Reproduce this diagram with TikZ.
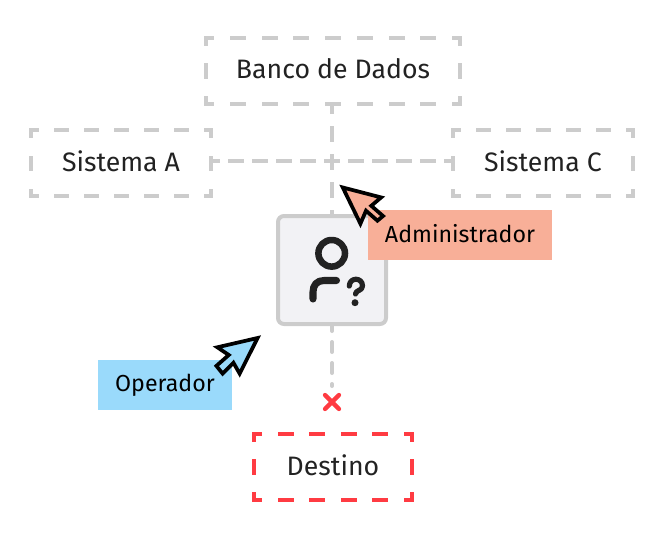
\documentclass[tikz,border=0pt]{standalone}
\usepackage{fontspec}
\setmainfont{Fira Sans}
\definecolor{gline}{HTML}{CCCCCC}
\definecolor{redline}{HTML}{FF3B42}
\definecolor{ink}{HTML}{222222}
\definecolor{iconfill}{HTML}{F2F2F5}
\definecolor{salmon}{HTML}{F8AF98}
\definecolor{sky}{HTML}{9ADAFB}
\newlength{\pxu}\setlength{\pxu}{0.75pt}
\usetikzlibrary{calc}
% name, horizontal periods, vertical periods, dash, colour
\newcommand{\dashedbox}[5]{%
  \path (#1.north west) let \p1=($(#1.north east)-(#1.north west)$), \p2=($(#1.north west)-(#1.south west)$) in
    \pgfextra{\pgfmathsetlengthmacro{\hgap}{\x1/#2-(#4-4)*\pxu}\pgfmathsetlengthmacro{\vgap}{\y2/#3-(#4-4)*\pxu}\global\let\hgapg\hgap\global\let\vgapg\vgap};
  \draw[#5,line width=3pt,line cap=rect,dash pattern=on #4\pxu-4\pxu off \hgapg,dash phase=(#4-4)*0.5*\pxu] (#1.north west) -- (#1.north east);
  \draw[#5,line width=3pt,line cap=rect,dash pattern=on #4\pxu-4\pxu off \hgapg,dash phase=(#4-4)*0.5*\pxu] (#1.south west) -- (#1.south east);
  \draw[#5,line width=3pt,line cap=rect,dash pattern=on #4\pxu-4\pxu off \vgapg,dash phase=(#4-4)*0.5*\pxu] (#1.north west) -- (#1.south west);
  \draw[#5,line width=3pt,line cap=rect,dash pattern=on #4\pxu-4\pxu off \vgapg,dash phase=(#4-4)*0.5*\pxu] (#1.north east) -- (#1.south east);
}
\tikzset{
  sysbox/.style={rectangle,inner sep=0pt,outer sep=0pt,minimum height=66\pxu},
  boxtext/.style={text=ink,font=\fontsize{20pt}{24pt}\selectfont,inner sep=0pt},
  tag/.style={rectangle,inner sep=0pt,outer sep=0pt,minimum height=50\pxu},
  tagtext/.style={text=black,font=\fontsize{17.4pt}{21pt}\selectfont,inner sep=0pt},
  cursor/.style={draw=black,line width=2.8pt,miter limit=10,line join=miter},
  iconstroke/.style={draw=ink,line cap=round,line join=round},
}
\begin{document}
\begin{tikzpicture}[x=0.75pt,y=-0.75pt]
\useasboundingbox (0,0) rectangle (664,550);
% nodes
\node[sysbox,minimum width=254\pxu] (banco) at (333,71) {};
\node[sysbox,minimum width=180\pxu] (sisa) at (121,163) {};
\node[sysbox,minimum width=180\pxu] (sisc) at (543,163) {};
\node[sysbox,minimum width=158\pxu] (destino) at (333,467) {};
\node[boxtext] (tbanco) at (333,69) {Banco de Dados};
\node[boxtext] (tsisa) at (121,161) {Sistema A};
\node[boxtext] (tsisc) at (543,161) {Sistema C};
\node[boxtext] (tdest) at (333,465) {Destino};
\node[rectangle,inner sep=0pt,outer sep=0pt,minimum width=108\pxu,minimum height=108\pxu] (icon) at (332,270) {};
\coordinate (xm) at (332,402);
\coordinate (hl) at (211,161);
\coordinate (hr) at (453,161);
\coordinate (vt) at (332,104);
% connectors
\draw[gline,line width=3pt,dash pattern=on 16\pxu off 8\pxu,dash phase=7\pxu] (hl) -- (hr);
\draw[gline,line width=3pt,dash pattern=on 16\pxu off 12\pxu,dash phase=6\pxu] (vt) -- (icon.north -| vt);
\draw[gline,line width=3pt,line cap=round,dash pattern=on 10\pxu off 11\pxu,dash phase=3\pxu] (icon.south) -- ($(xm)+(0,-16)$);
% boxes
\dashedbox{banco}{8}{2}{16}{gline}
\dashedbox{sisa}{6}{2}{15}{gline}
\dashedbox{sisc}{6}{2}{15}{gline}
\dashedbox{destino}{5}{2}{16}{redline}
% icon
\draw[gline,fill=iconfill,line width=3pt,rounded corners=6\pxu] (icon.south west) rectangle (icon.north east);
\draw[iconstroke,line width=4.9pt] (331.7,253.3) circle (13.3);
\draw[iconstroke,line width=5.3pt] (313,299) -- (313,292) .. controls (313,285) and (317,280.5) .. (324,280.5) -- (336.5,280.5);
\draw[iconstroke,line width=3.9pt] (349.3,286) .. controls (349.5,277) and (362.5,277) .. (362.5,286) .. controls (362.5,291) and (355.5,290) .. (355.5,294);
\fill[ink] (355,302.7) circle (3.5);
% X
\draw[redline,line width=3.2pt,line cap=round] ($(xm)+(-7,-7)$) -- ($(xm)+(7,7)$) ($(xm)+(-7,7)$) -- ($(xm)+(7,-7)$);
% tags
\node[tag,fill=salmon,minimum width=184\pxu] (admin) at (460,235) {};
\node[tag,fill=sky,minimum width=134\pxu] (oper) at (165,385) {};
\node[tagtext] (tadmin) at (460,234) {Administrador};
\node[tagtext] (toper) at (165,385) {Operador};
% cursors
\begin{scope}[shift={(366,207)},scale=.93,shift={(-366,-207)}]
\draw[cursor,fill=salmon] (341,186) -- (382.3,196.7) -- (371.7,205.7) -- (384.3,216.7) -- (378.3,221.7) -- (366,211) -- (360,225) -- cycle;
\end{scope}
\begin{scope}[shift={(235,355)},scale=.93,shift={(-235,-355)}]
\draw[cursor,fill=sky] (259.3,336.7) -- (216,346.7) -- (228.3,355) -- (215,366.7) -- (221.7,375) -- (233.3,363.3) -- (240,375) -- cycle;
\end{scope}
\end{tikzpicture}
\end{document}
